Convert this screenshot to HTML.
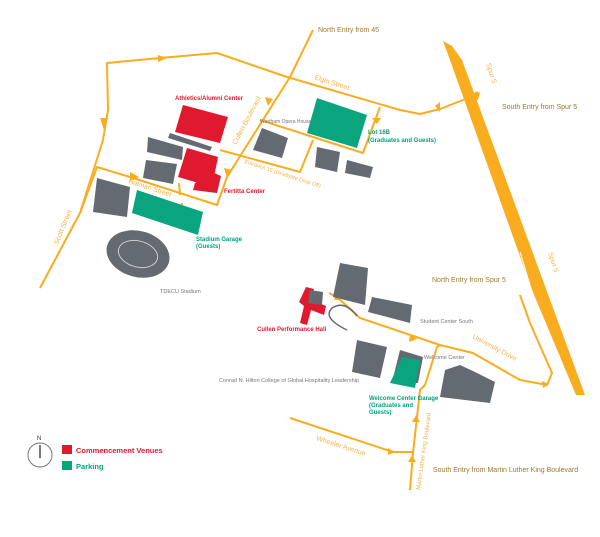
<!DOCTYPE html>
<html><head><meta charset="utf-8"><style>
html,body{margin:0;padding:0;background:#fff;}
svg{display:block;font-family:"Liberation Sans",sans-serif;}
.r{fill:none;stroke:#f9ad1e;stroke-width:2;stroke-linejoin:round}
.g{fill:#646a71}
.p{fill:#0aa57f}
.v{fill:#e1192f}
.e{fill:#9b7a2d;font-size:7px}
.s{fill:#f5b347;font-size:7px}
.gt{fill:#00a37c;font-size:6px;font-weight:bold}
.rt{fill:#e1192f;font-size:6px;font-weight:bold}
.k{fill:#777;font-size:5.5px}
.a{fill:#f9ad1e}
</style></head><body>
<svg width="600" height="537" viewBox="0 0 600 537" xmlns="http://www.w3.org/2000/svg">
<!-- Spur 5 -->
<polygon points="443,41 452,46 462,60 585,395 576,395 532,290 450,60" fill="#f9ad1e"/>
<line x1="520" y1="252" x2="540" y2="318" stroke="#fff" stroke-width="1"/>
<!-- roads -->
<polyline class="r" points="40,288 80,213 103,140 108,110 107,63 160,58 217,53 287,77 400,110 420,114 440,109 468,98 478,92"/>
<polyline class="r" points="313,30 290,77 227,177 217,205 130,177 97,167 80,213"/>
<polyline class="r" points="260,120 363,153 380,107"/>
<polyline class="r" points="220,150 300,172 313,140"/>
<polyline class="r" points="180,195 179,183"/><polyline class="r" points="181,212 182,203"/>
<polyline class="r" points="329,293 337,297 360,318 440,345 473,353 520,380 547,385 552,373 530,323 520,295"/>
<polyline class="r" points="410,490 413,453 420,390 425,385 437,347 440,345"/>
<polyline class="r" points="290,418 393,452 413,452"/>
<!-- arrows -->
<polygon class="a" points="100,118 104,130 108,118"/>
<polygon class="a" points="158,55 167,58 158,62"/>
<polygon class="a" points="265,97 268,106 273,99"/>
<polygon class="a" points="224,168 227,178 232,170"/>
<polygon class="a" points="130,172 139,177 130,181"/>
<polygon class="a" points="372,118 377,124 381,118"/>
<polygon class="a" points="435,106 440,112 440,102"/>
<polygon class="a" points="334,300 337,293 341,300"/>
<polygon class="a" points="420,338 413,333 412,341" transform="translate(-3,1)"/>
<polygon class="a" points="388,448 395,452 388,455"/>
<polygon class="a" points="408,462 412,455 416,462"/>
<polygon class="a" points="412,422 416,415 420,422"/>
<polygon class="a" points="542,381 549,384 543,388"/>
<polygon class="a" points="470,97 480,92 478,100"/>
<!-- buildings top -->
<polygon class="v" points="183,105 228,117 220,143 175,132"/>
<polygon class="v" points="187,148 218,157 212,187 178,177"/>
<polygon class="v" points="195,183 214,173 221,176 217,193 193,190"/>
<polygon class="g" points="170,133 212,147 210,151 168,138"/>
<polygon class="g" points="148,137 183,147 182,160 147,152"/>
<polygon class="g" points="146,160 177,164 173,184 143,178"/>
<polygon class="g" points="97,178 130,187 127,217 93,212"/>
<polygon class="p" points="137,190 203,212 198,235 132,213"/>
<g transform="translate(138,254) rotate(15)"><ellipse rx="32" ry="23" class="g"/><ellipse rx="20" ry="13" fill="none" stroke="#ccc" stroke-width="1"/></g>
<polygon class="g" points="262,128 288,138 282,158 253,150"/>
<polygon class="p" points="317,98 367,115 357,148 307,133"/>
<polygon class="g" points="317,147 340,152 337,172 315,167"/>
<polygon class="g" points="347,160 373,167 370,178 345,173"/>
<!-- buildings bottom -->
<polygon class="g" points="340,263 368,268 365,305 333,297"/>
<polygon class="v" points="306,287 314,289 312,300 326,306 324,315 311,310 307,325 300,323 304,306 299,302"/>
<polygon class="g" points="310,290 323,292 322,305 308,303"/>
<path d="M347,330 Q322,318 332,308 Q345,300 357,316" fill="none" stroke="#646a71" stroke-width="1.5"/>
<polygon class="g" points="372,297 412,305 410,323 368,312"/>
<polygon class="g" points="357,340 387,347 380,378 352,372"/>
<polygon class="g" points="400,350 423,357 418,383 392,382"/>
<polygon class="p" points="402,357 420,360 415,388 390,383"/>
<polygon class="g" points="445,370 460,365 475,372 495,382 490,403 440,397"/>
<!-- labels -->
<text class="e" x="318" y="32">North Entry from 45</text>
<text class="e" x="502" y="109">South Entry from Spur 5</text>
<text class="e" x="432" y="282">North Entry from Spur 5</text>
<text class="e" x="433" y="472">South Entry from Martin Luther King Boulevard</text>
<text class="s" transform="translate(486,64) rotate(72)">Spur 5</text>
<text class="s" transform="translate(548,253) rotate(72)">Spur 5</text>
<text class="s" transform="translate(314,79) rotate(18)">Elgin Street</text>
<text class="s" transform="translate(236,145) rotate(-62)">Cullen Boulevard</text>
<text class="s" transform="translate(244,163) rotate(18)" style="font-size:5.5px">Entrance 15 (Graduate Drop Off)</text>
<text class="s" transform="translate(128,183) rotate(18)">Holman Street</text>
<text class="s" transform="translate(58,245) rotate(-68)">Scott Street</text>
<text class="s" transform="translate(472,338) rotate(28)">University Drive</text>
<text class="s" transform="translate(316,440) rotate(18)">Wheeler Avenue</text>
<text class="s" transform="translate(420,490) rotate(-82)" style="font-size:6px">Martin Luther King Boulevard</text>
<text class="rt" x="175" y="100">Athletics/Alumni Center</text>
<text class="rt" x="224" y="193">Fertitta Center</text>
<text class="rt" x="257" y="331">Cullen Performance Hall</text>
<text class="gt" x="368" y="134">Lot 16B</text>
<text class="gt" x="368" y="142">(Graduates and Guests)</text>
<text class="gt" x="196" y="241">Stadium Garage</text>
<text class="gt" x="196" y="248">(Guests)</text>
<text class="gt" x="369" y="400">Welcome Center Garage</text>
<text class="gt" x="369" y="407">(Graduates and</text>
<text class="gt" x="369" y="414">Guests)</text>
<text class="k" x="160" y="293">TDECU Stadium</text>
<text class="k" x="420" y="323">Student Center South</text>
<text class="k" x="424" y="359">Welcome Center</text>
<text class="k" x="219" y="382">Conrad N. Hilton College of Global Hospitality Leadership</text>
<text class="k" x="260" y="123" style="font-size:5px">Wortham Opera House</text>
<!-- legend -->
<text x="37" y="440" style="font-size:6px" fill="#333">N</text>
<circle cx="40" cx2="" cy="455" r="12" fill="none" stroke="#777" stroke-width="1"/>
<line x1="40" y1="445" x2="40" y2="458" stroke="#222" stroke-width="1.2"/>
<rect x="62" y="445" width="10" height="9" class="v"/>
<text x="76" y="453" class="rt" style="font-size:7.5px">Commencement Venues</text>
<rect x="62" y="461" width="10" height="9" class="p"/>
<text x="76" y="469" class="gt" style="font-size:7.5px">Parking</text>
</svg>
</body></html>
